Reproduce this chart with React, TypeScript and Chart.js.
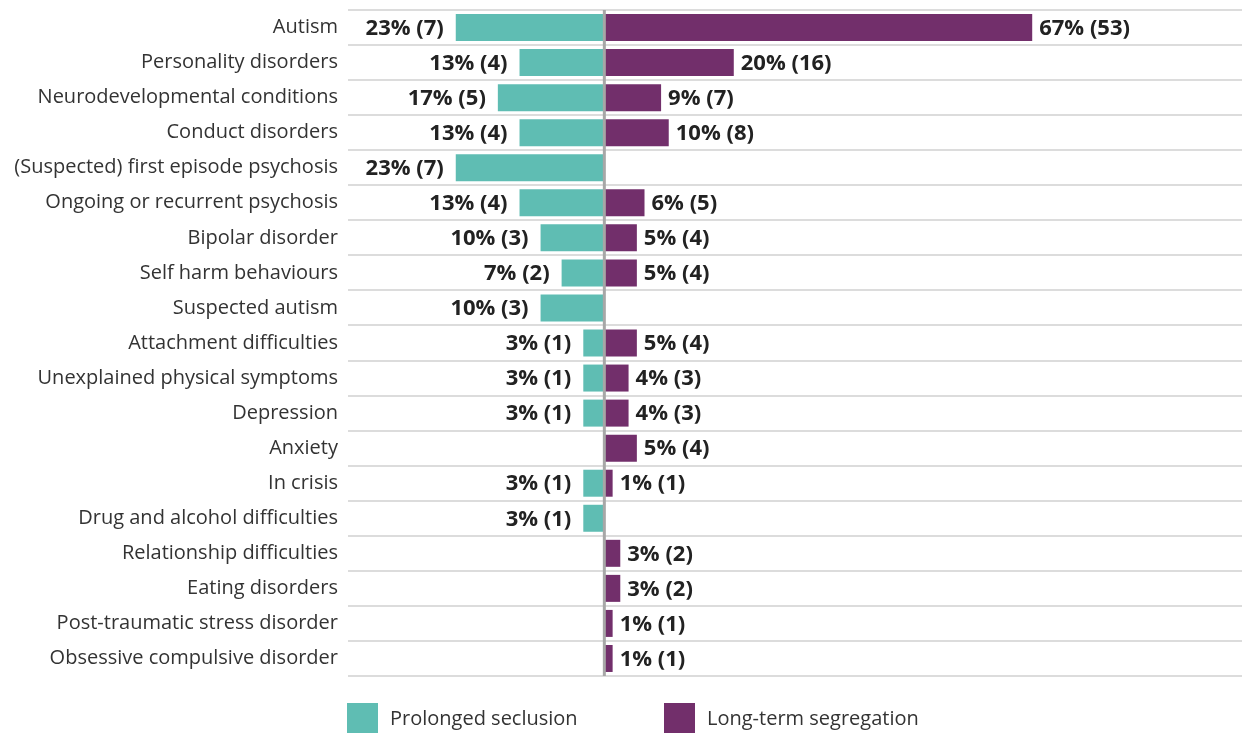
import React, { useEffect, useRef } from "react";
import { Chart, registerables } from "chart.js";

Chart.register(...registerables);

const categories = [
  "Autism",
  "Personality disorders",
  "Neurodevelopmental conditions",
  "Conduct disorders",
  "(Suspected) first episode psychosis",
  "Ongoing or recurrent psychosis",
  "Bipolar disorder",
  "Self harm behaviours",
  "Suspected autism",
  "Attachment difficulties",
  "Unexplained physical symptoms",
  "Depression",
  "Anxiety",
  "In crisis",
  "Drug and alcohol difficulties",
  "Relationship difficulties",
  "Eating disorders",
  "Post-traumatic stress disorder",
  "Obsessive compulsive disorder",
];

const seclusionPct = [23.3, 13.3, 16.7, 13.3, 23.3, 13.3, 10, 6.7, 10, 3.3, 3.3, 3.3, 0, 3.3, 3.3, 0, 0, 0, 0];
const seclusionLabels = [
  "23% (7)", "13% (4)", "17% (5)", "13% (4)", "23% (7)", "13% (4)", "10% (3)", "7% (2)", "10% (3)",
  "3% (1)", "3% (1)", "3% (1)", "", "3% (1)", "3% (1)", "", "", "", "",
];

const segregationPct = [67.1, 20.3, 8.9, 10.1, 0, 6.3, 5.1, 5.1, 0, 5.1, 3.8, 3.8, 5.1, 1.3, 0, 2.5, 2.5, 1.3, 1.3];
const segregationLabels = [
  "67% (53)", "20% (16)", "9% (7)", "10% (8)", "", "6% (5)", "5% (4)", "5% (4)", "",
  "5% (4)", "4% (3)", "4% (3)", "5% (4)", "1% (1)", "", "3% (2)", "3% (2)", "1% (1)", "1% (1)",
];

const seriesNames = ["Prolonged seclusion", "Long-term segregation"];
const seriesColors = ["#5fbdb3", "#722f6b"];

const FONT = "'Open Sans', 'Noto Sans', sans-serif";

export default function App() {
  const ref = useRef<HTMLCanvasElement | null>(null);

  useEffect(() => {
    if (!ref.current) return;

    const overlay = {
      id: "overlay",
      afterDatasetsDraw(chart: any) {
        const ctx = chart.ctx;
        const area = chart.chartArea;
        const xs = chart.scales.x;
        // value labels
        ctx.save();
        ctx.font = `bold 22px ${FONT}`;
        ctx.fillStyle = "#222222";
        ctx.textBaseline = "middle";
        const labelSets = [seclusionLabels, segregationLabels];
        chart.data.datasets.forEach((ds: any, di: number) => {
          const meta = chart.getDatasetMeta(di);
          meta.data.forEach((bar: any, i: number) => {
            const txt = labelSets[di][i];
            if (!txt) return;
            if (di === 0) {
              ctx.textAlign = "right";
              ctx.fillText(txt, bar.x - 12, bar.y + 1);
            } else {
              ctx.textAlign = "left";
              ctx.fillText(txt, bar.x + 7, bar.y + 1);
            }
          });
        });
        // center line
        const x0 = xs.getPixelForValue(0);
        ctx.strokeStyle = "#a7a7a7";
        ctx.lineWidth = 3;
        ctx.beginPath();
        ctx.moveTo(x0, area.top);
        ctx.lineTo(x0, area.bottom);
        ctx.stroke();
        // legend
        const items = [
          { x: 347, textX: 390 },
          { x: 664, textX: 707 },
        ];
        ctx.font = `20px ${FONT}`;
        ctx.textAlign = "left";
        ctx.textBaseline = "middle";
        items.forEach((it, i) => {
          ctx.fillStyle = seriesColors[i];
          ctx.fillRect(it.x, 703, 31, 31);
          ctx.fillStyle = "#333333";
          ctx.fillText(seriesNames[i], it.textX, 719);
        });
        ctx.restore();
      },
    };

    const chart = new Chart(ref.current, {
      type: "bar",
      data: {
        labels: categories,
        datasets: [
          {
            label: seriesNames[0],
            data: seclusionPct.map((v) => -v),
            backgroundColor: seriesColors[0],
            categoryPercentage: 1,
            barPercentage: 0.77,
          },
          {
            label: seriesNames[1],
            data: segregationPct,
            backgroundColor: seriesColors[1],
            categoryPercentage: 1,
            barPercentage: 0.77,
          },
        ],
      },
      options: {
        indexAxis: "y",
        animation: false,
        responsive: true,
        maintainAspectRatio: false,
        layout: { padding: { top: 10, right: 1, bottom: 57, left: 0 } },
        plugins: {
          legend: { display: false },
          tooltip: { enabled: false },
        },
        scales: {
          x: {
            display: false,
            stacked: true,
            min: -40.2,
            max: 100,
          },
          y: {
            stacked: true,
            border: { display: false },
            grid: {
              offset: true,
              color: "#dcdcdc",
              lineWidth: 2,
              drawTicks: false,
            },
            ticks: {
              color: "#333333",
              padding: 10,
              font: { family: FONT, size: 20 },
            },
            afterFit(scale: any) {
              scale.width = 348;
              scale.paddingTop = 0;
              scale.paddingBottom = 0;
            },
          },
        },
      },
      plugins: [overlay],
    });

    return () => chart.destroy();
  }, []);

  return (
    <div style={{ position: "fixed", left: 0, top: 0, width: 1243, height: 733, background: "#fff" }}>
      <canvas ref={ref} />
    </div>
  );
}
